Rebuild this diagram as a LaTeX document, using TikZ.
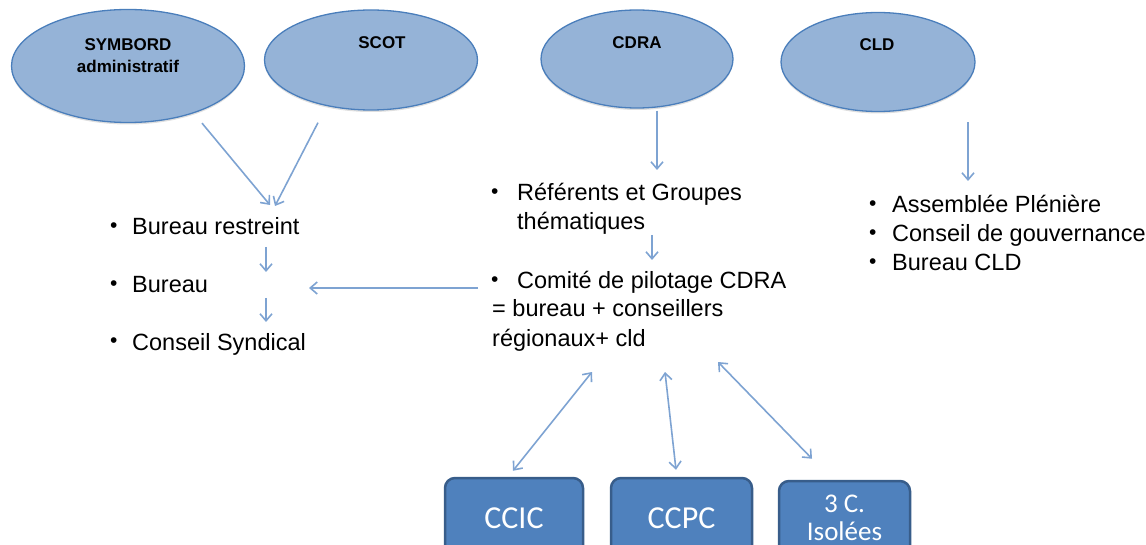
\documentclass[tikz,border=0pt]{standalone}
\usepackage{fontspec}
\setmainfont{Liberation Sans}
\newfontfamily\boxfont{Carlito}
\usetikzlibrary{positioning,arrows.meta,calc,shadows,shapes.geometric}
\definecolor{ellfill} {HTML}{95B3D7}
\definecolor{elldraw} {HTML}{4A7EBB}
\definecolor{boxfill} {HTML}{4F81BD}
\definecolor{boxdraw} {HTML}{385D8A}
\definecolor{link}    {HTML}{7EA3D2}
\newcommand{\itm}[2][22pt]{\makebox[#1][l]{\raisebox{2.5pt}{\fontsize{21}{21}\selectfont\textbullet}}#2}
\tikzset{
  % --- nodes
  ell/.style   = {ellipse, draw=elldraw, fill=ellfill, line width=1.3pt, inner sep=0pt,
                  drop shadow={opacity=0.25, shadow xshift=0pt, shadow yshift=-2pt}},
  etxt/.style  = {font=\fontsize{17}{22}\selectfont\bfseries, align=center, inner sep=0pt},
  entry/.style = {anchor=base west, inner sep=0pt, font=\fontsize{23.5}{29}\selectfont},
  org/.style   = {rounded corners=10pt, draw=boxdraw, fill=boxfill, line width=2.5pt,
                  text=white, align=center, font=\boxfont\fontsize{32}{32}\selectfont},
  % --- edges
  arr/.style   = {draw=link, line width=1.6pt, -{Straight Barb[length=7pt,width=12pt]}},
  darr/.style  = {arr, {Straight Barb[length=7pt,width=12pt]}-{Straight Barb[length=7pt,width=12pt]}},
}

\begin{document}
\begin{tikzpicture}[x=1pt, y=-1pt]
  \useasboundingbox (0,0) rectangle (1146,545);
  \clip (0,0) rectangle (1146,545);

  % top ellipses
  \node[ell, minimum width=233pt, minimum height=113pt] (symbord) at (128,66) {};
  \node[ell, minimum width=213pt, minimum height=100pt] (scot)    at (371,60) {};
  \node[ell, minimum width=192pt, minimum height=98pt]  (cdra)    at (637,59) {};
  \node[ell, minimum width=194pt, minimum height=99pt]  (cld)     at (878,62) {};
  \node[etxt] (symbordtxt) at (128,56) {SYMBORD\\administratif};
  \node[etxt] (scottxt)    at (382,43) {SCOT};
  \node[etxt] (cdratxt)    at (637,43) {CDRA};
  \node[etxt] (cldtxt)     at (877,45) {CLD};

  % left list
  \node[entry] (br) at (110,235) {\itm{Bureau restreint}};
  \node[entry] (bu) at (110,293) {\itm{Bureau}};
  \node[entry] (cs) at (110,350) {\itm{Conseil Syndical}};

  % middle list
  \node[entry] (ref1) at (491,201) {\itm[26pt]{Référents et Groupes}};
  \node[entry] (ref2) at (517,230) {thématiques};
  \node[entry] (cm1)  at (491,289) {\itm[26pt]{Comité de pilotage CDRA}};
  \node[entry] (cm2)  at (492,317) {= bureau + conseillers};
  \node[entry] (cm3)  at (492,347) {régionaux+ cld};

  % right list
  \node[entry] (ap) at (869,213) {\itm[23pt]{Assemblée Plénière}};
  \node[entry] (cg) at (869,242) {\itm[23pt]{Conseil de gouvernance}};
  \node[entry] (bc) at (869,271) {\itm[23pt]{Bureau CLD}};

  % bottom boxes
  \node[org, minimum width=138pt, minimum height=80pt] (ccic) at (514,518) {CCIC};
  \node[org, minimum width=141pt, minimum height=80pt] (ccpc) at (681.5,518) {CCPC};
  \node[org, minimum width=131pt, minimum height=80pt,
        font=\boxfont\fontsize{27}{28}\selectfont] (iso) at (844.5,521)
        {\raisebox{11pt}{\begin{tabular}{@{}c@{}}3 C.\\Isolées\end{tabular}}};

  % links
  \draw[arr] ([xshift=74pt]symbord.south) -- ([xshift=160pt,yshift=30pt]br.base west);
  \draw[arr] ([xshift=-53pt,yshift=-12pt]scot.south) -- ([xshift=165pt,yshift=29pt]br.base west);
  \draw[arr] ([xshift=156pt,yshift=-12pt]br.base west) -- ([xshift=156pt,yshift=21pt]bu.base west);
  \draw[arr] ([xshift=156pt,yshift=-5pt]bu.base west) -- ([xshift=156pt,yshift=28pt]cs.base west);
  \draw[arr] ([xshift=20pt,yshift=-2pt]cdra.south) -- ([xshift=166pt,yshift=31pt]ref1.base west);
  \draw[arr] ([xshift=135pt,yshift=-5pt]ref2.base west) -- ([xshift=161pt,yshift=29pt]cm1.base west);
  \draw[arr] ([xshift=-13pt,yshift=1pt]cm1.base west) -- ([xshift=199pt,yshift=5pt]bu.base west);
  \draw[arr] ([xshift=90pt,yshift=-10pt]cld.south) -- ([xshift=99pt,yshift=32pt]ap.base west);
  \draw[darr] ([xshift=100pt,yshift=-25pt]cm3.base west) -- ([xshift=-1pt,yshift=6pt]ccic.north);
  \draw[darr] ([xshift=173pt,yshift=-25pt]cm3.base west) -- ([xshift=-5.5pt,yshift=7pt]ccpc.north);
  \draw[darr] ([xshift=226pt,yshift=-15pt]cm3.base west) -- ([xshift=-32.5pt,yshift=21pt]iso.north);
\end{tikzpicture}
\end{document}
